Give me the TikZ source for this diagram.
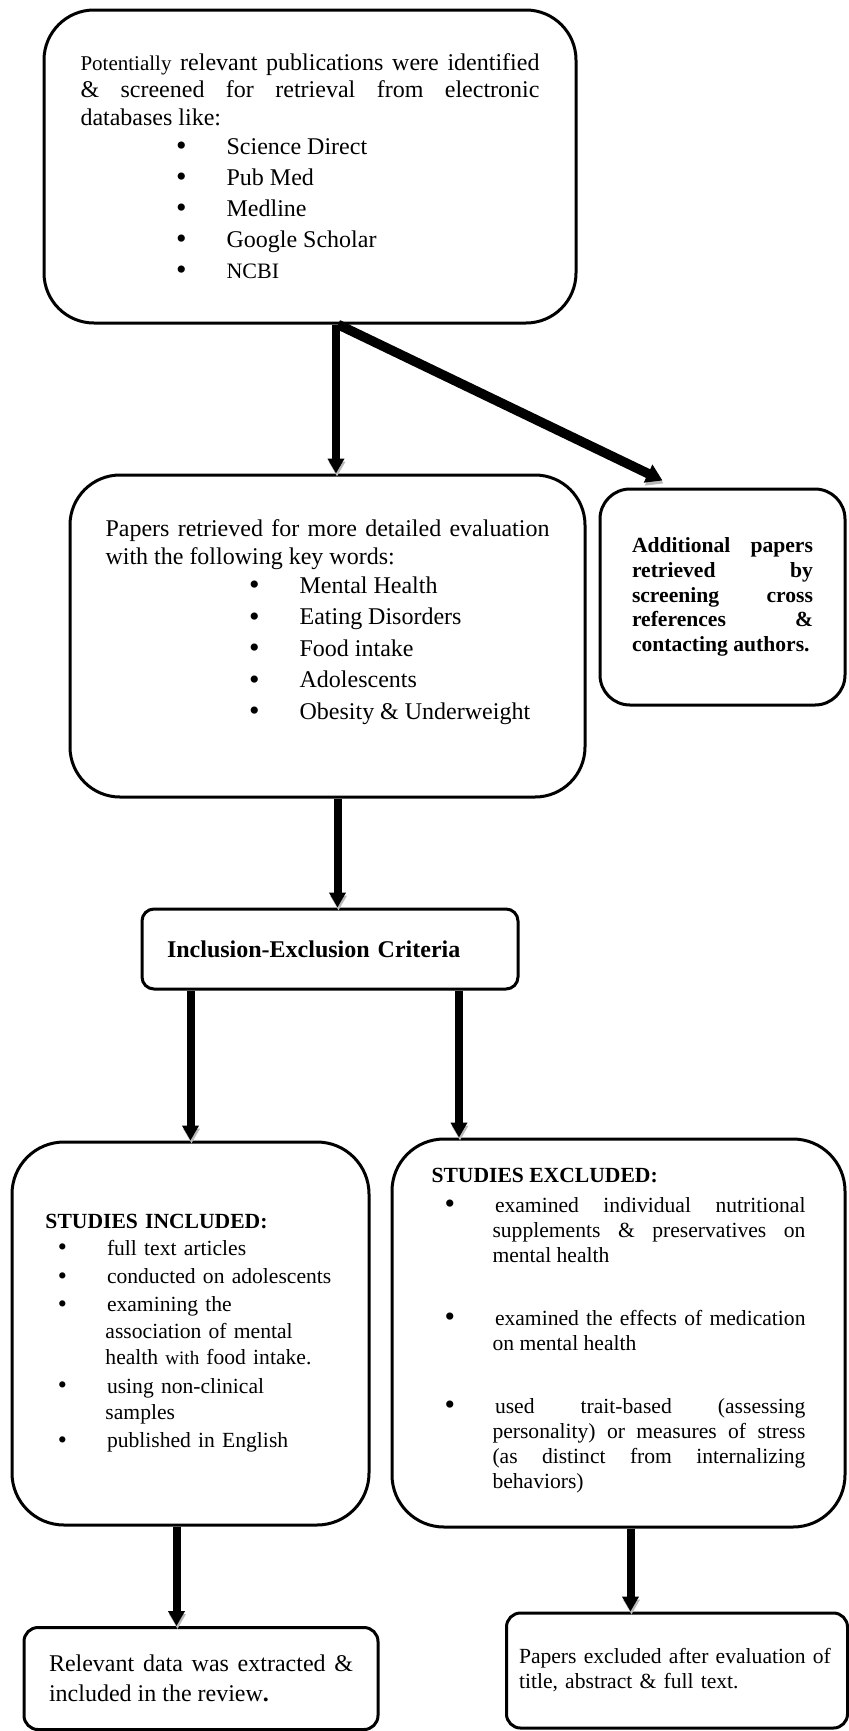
\documentclass[tikz,border=0pt]{standalone}
\usepackage{fontspec}
\setmainfont{Liberation Serif}
\usepackage{enumitem}
\usetikzlibrary{arrows.meta}

\newlist{dblist}{itemize}{1}
\setlist[dblist]{label=\raisebox{-0.6pt}{\fontsize{15}{15}\selectfont\textbullet}, align=left,
  topsep=0pt, partopsep=0pt, parsep=0pt}

\setlength{\parindent}{0pt}
\tolerance=10000
\hyphenpenalty=10000
\exhyphenpenalty=10000

\tikzset{
  stagebox/.style={draw, line width=1.5pt, rounded corners=25pt, inner sep=0pt},
  flow/.style={-{Triangle[length=7.5pt,width=8pt]}, line width=4pt,
    preaction={draw=gray!55, transform canvas={shift={(0.5pt,-1.5pt)}}}},
}

\begin{document}
\begin{tikzpicture}[x=0.5pt, y=-0.5pt]
  \useasboundingbox (0,0) rectangle (848,1731);

  % search of the databases
  \node[stagebox, minimum width=266pt, minimum height=156.5pt, text width=229.5pt, align=justify,
        font=\fontsize{12}{13.8}\selectfont] (search) at (310,166.5) {
    {\fontsize{10.5}{13.8}\selectfont Potentially} relevant publications were identified
    \& screened for retrieval from electronic\linebreak databases like:
    \begin{dblist}[leftmargin=72pt, labelsep=20pt, labelwidth=4.2pt, itemsep=1.7pt, topsep=0.7pt]
      \item Science Direct
      \item Pub Med
      \item Medline
      \item Google Scholar
      \item {\fontsize{11}{13.8}\selectfont NCBI}
    \end{dblist}};

  % key words
  \node[stagebox, minimum width=257.5pt, minimum height=161pt, text width=222pt, align=justify,
        font=\fontsize{12}{14}\selectfont] (retrieved) at (327.5,636) {
    Papers retrieved for more detailed evaluation with the following key words:
    \begin{dblist}[leftmargin=96pt, labelsep=20pt, labelwidth=4.2pt, itemsep=1.75pt, topsep=0.5pt]
      \item Mental Health
      \item Eating Disorders
      \item Food intake
      \item Adolescents
      \item Obesity \& Underweight
    \end{dblist}
    \vspace{2pt}\mbox{}};

  \node[stagebox, rounded corners=15pt, minimum width=122.5pt, minimum height=108pt,
        text width=90.5pt, align=justify, font=\fontsize{10.8}{12.3}\selectfont\bfseries] (additional) at (722.5,597) {
    Additional papers\linebreak retrieved by\linebreak screening cross\linebreak
    references \&\linebreak contacting authors.};

  \node[stagebox, rounded corners=6pt, minimum width=188pt, minimum height=40pt, text width=163pt,
        align=left, font=\fontsize{12}{14}\selectfont\bfseries] (criteria) at (330,949) {Inclusion-Exclusion Criteria};

  % the two branches
  \node[stagebox, rounded corners=26pt, minimum width=178.5pt, minimum height=191.5pt, text width=145pt,
        align=left, font=\fontsize{10.8}{13.2}\selectfont] (included) at (190.5,1333.5) {
    \textbf{STUDIES INCLUDED:}
    \begin{dblist}[leftmargin=30pt, labelsep=20pt, labelwidth=3.8pt, itemsep=1pt,
                   label=\raisebox{-0.3pt}{\fontsize{13}{13}\selectfont\textbullet}]
      \item full text articles
      \item conducted on adolescents
      \item examining the\\ association of mental\\ health {\fontsize{9.5}{13.2}\selectfont with} food intake.
      \item using non-clinical\\ samples
      \item published in English
    \end{dblist}};

  \node[stagebox, rounded corners=26pt, minimum width=226.5pt, minimum height=194pt, text width=187pt,
        align=justify, font=\fontsize{10.8}{12.5}\selectfont] (excluded) at (618.5,1333) {
    \textbf{STUDIES EXCLUDED:}
    \begin{dblist}[leftmargin=30.5pt, labelsep=20pt, labelwidth=4pt, itemsep=19pt, topsep=2.5pt]
      \item examined individual nutritional\linebreak supplements \& preservatives on\linebreak mental health
      \item examined the effects of medication\linebreak on mental health
      \item used trait-based (assessing\linebreak personality) or measures of stress\linebreak
            (as distinct from internalizing\linebreak behaviors)
    \end{dblist}
    \vspace{0pt}};

  % outcomes
  \node[stagebox, rounded corners=7pt, minimum width=177pt, minimum height=51pt, text width=152pt,
        align=justify, font=\fontsize{12}{15}\selectfont] (extracted) at (201,1678.5) {
    Relevant data was extracted \&\linebreak included in the review\textbf{.}};

  \node[stagebox, rounded corners=7pt, minimum width=170.5pt, minimum height=57.5pt, text width=158pt,
        align=left, font=\fontsize{10.8}{12.5}\selectfont] (dropped) at (677,1670.5) {
    Papers excluded after evaluation of\\ title, abstract \& full text.};

  % connectors
  \draw[flow] ([xshift=13pt]search.south) -- ([xshift=13pt]search.south |- retrieved.north);
  \draw[flow, line width=4.8pt, -{Triangle[length=8pt,width=9.5pt]}]
    ([xshift=14pt]search.south) -- ([xshift=-30pt,yshift=3.5pt]additional.north);
  \draw[flow] ([xshift=5pt]retrieved.south) -- ([xshift=5pt]retrieved.south |- criteria.north);
  \draw[flow] (included.north |- criteria.south) -- (included.north);
  \draw[flow] ([xshift=64.5pt]criteria.south) -- ([xshift=64.5pt]criteria.south |- excluded.north);
  \draw[flow] ([xshift=-7pt]included.south) -- ([xshift=-7pt]included.south |- extracted.north);
  \draw[flow] ([xshift=6pt]excluded.south) -- ([xshift=6pt]excluded.south |- dropped.north);
\end{tikzpicture}
\end{document}
